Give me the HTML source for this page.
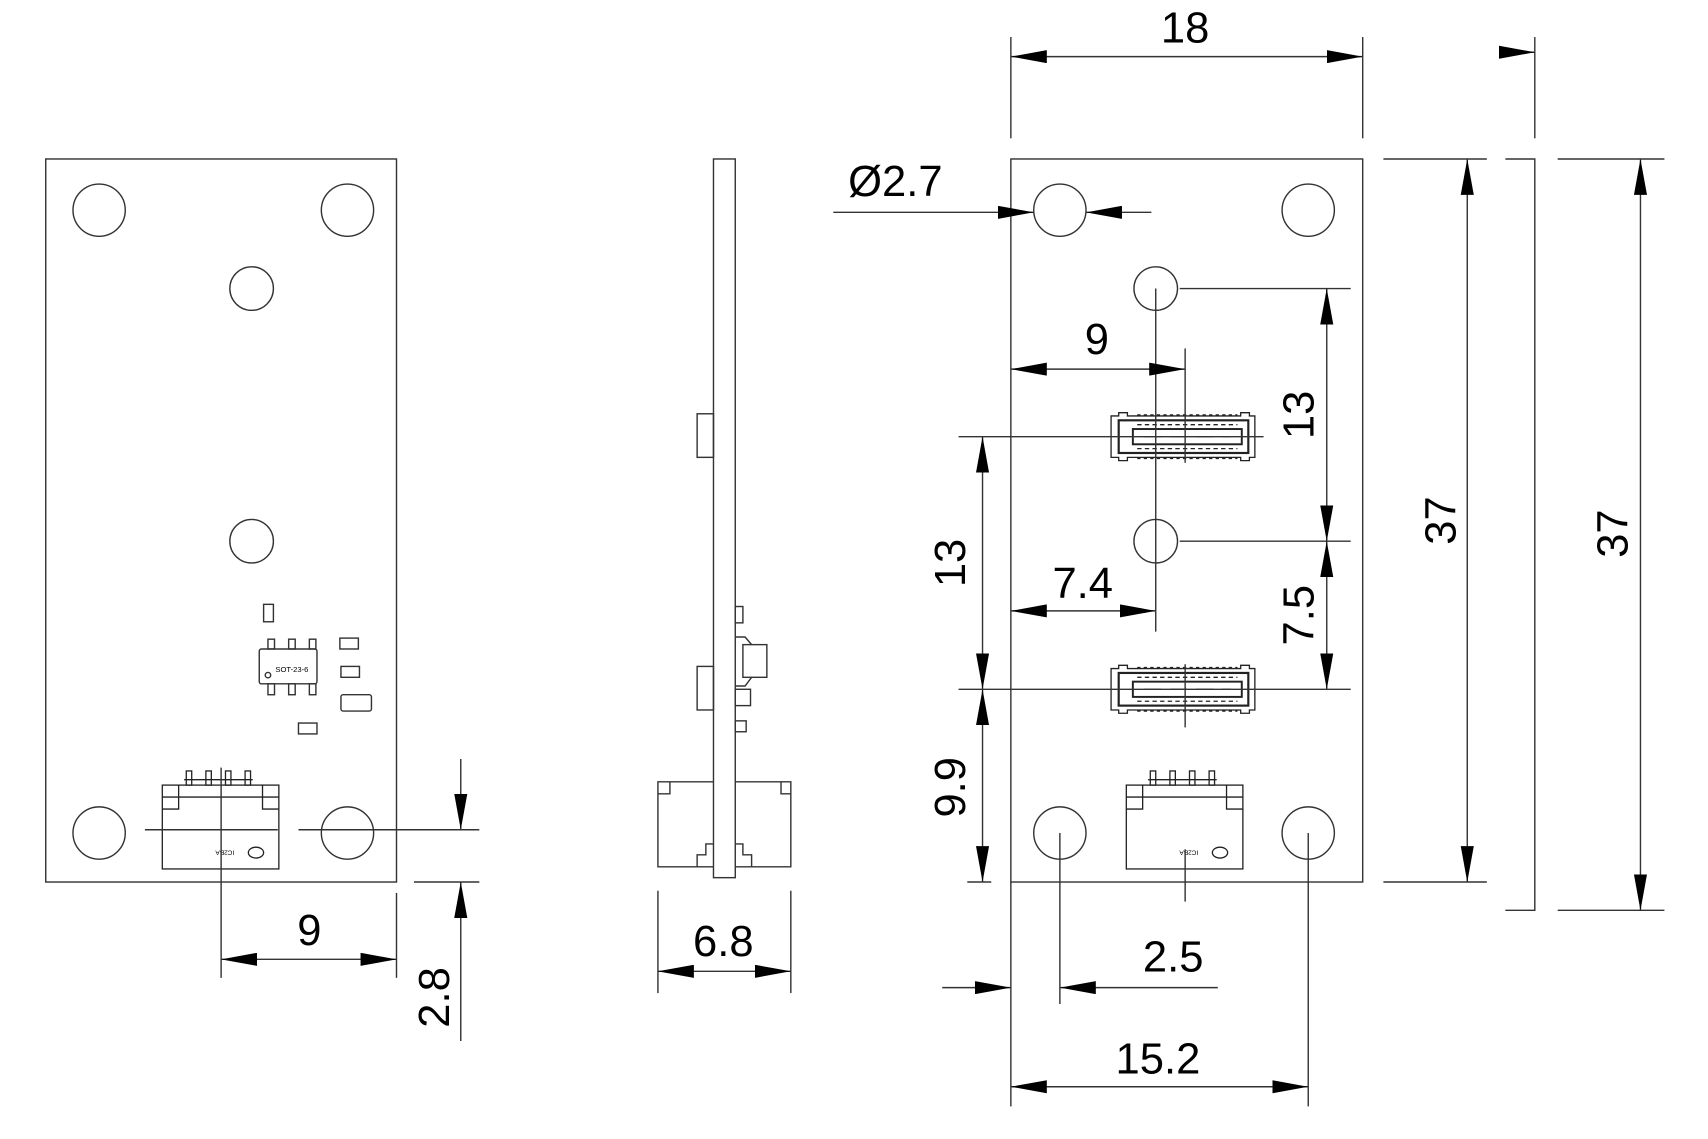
<!DOCTYPE html>
<html><head><meta charset="utf-8"><style>
html,body{margin:0;padding:0;background:#fff;}
svg{display:block;}
text{font-family:"Liberation Sans",Arial,sans-serif;fill:#000;}
</style></head><body>
<svg width="1708" height="1139" viewBox="0 0 1568 1046" preserveAspectRatio="none" xmlns="http://www.w3.org/2000/svg">
<defs>
<marker id="a" viewBox="0 0 33 12" refX="33" refY="6" markerWidth="33" markerHeight="12" markerUnits="userSpaceOnUse" orient="auto-start-reverse">
<path d="M0,0 L33,6 L0,12 Z" fill="#000"/>
</marker>
<g id="conn4" fill="none" stroke="#222" stroke-width="1.2">
<rect x="149" y="721" width="107" height="77"/>
<line x1="149" y1="732" x2="256" y2="732"/>
<path d="M149,743 H164 V721"/><path d="M256,743 H241 V721"/>
<rect x="171" y="708" width="5" height="13"/><rect x="189" y="708" width="5" height="13"/>
<rect x="207" y="708" width="5" height="13"/><rect x="225" y="708" width="5" height="13"/>
<line x1="169" y1="716" x2="232" y2="716"/>
<text x="215" y="787" font-size="6" stroke="none" fill="#000" transform="rotate(180 215 784)">IC2BA</text>
<ellipse cx="235" cy="783" rx="7" ry="5"/>
</g>
<g id="fpc" fill="none" stroke="#222" stroke-width="1.2">
<path d="M1020,-19 H1027 V-22 H1035 V-19 H1139 V-22 H1147 V-19 H1152 V19 H1147 V22 H1139 V19 H1035 V22 H1027 V19 H1020 Z"/>
<rect x="1027" y="-15" width="119" height="30" stroke-width="2"/>
<rect x="1040" y="-7" width="100" height="14" stroke-width="1.8"/>
<line x1="1044" y1="-11" x2="1136" y2="-11" stroke-dasharray="4 3"/>
<line x1="1044" y1="11" x2="1136" y2="11" stroke-dasharray="4 3"/>
<line x1="1044" y1="-20" x2="1136" y2="-20" stroke-dasharray="3 3"/>
<line x1="1044" y1="20" x2="1136" y2="20" stroke-dasharray="3 3"/>
<line x1="1050" y1="0" x2="1130" y2="0" stroke-dasharray="16 8"/>
</g>
</defs>
<g fill="none" stroke="#333" stroke-width="1.3">
<rect x="42" y="146" width="322" height="664"/>
<circle cx="91" cy="193" r="24"/><circle cx="319" cy="193" r="24"/>
<circle cx="91" cy="765" r="24"/><circle cx="319" cy="765" r="24"/>
<circle cx="231" cy="265" r="20"/><circle cx="231" cy="497" r="20"/>
<rect x="242" y="555" width="9" height="16"/>
<rect x="238" y="596" width="53" height="32" rx="2"/>
<rect x="246" y="587" width="6" height="9"/><rect x="265" y="587" width="6" height="9"/><rect x="284" y="587" width="6" height="9"/>
<rect x="246" y="628" width="6" height="10"/><rect x="265" y="628" width="6" height="10"/><rect x="284" y="628" width="6" height="10"/>
<circle cx="246" cy="620" r="2.5"/>
<rect x="312" y="586" width="17" height="10"/><rect x="313" y="612" width="17" height="10"/>
<rect x="313" y="638" width="28" height="15" rx="2"/><rect x="274" y="664" width="17" height="10"/>
<use href="#conn4"/>
<line x1="203" y1="705" x2="203" y2="898"/>
<line x1="133" y1="762" x2="255" y2="762"/><line x1="274" y1="762" x2="440" y2="762"/>
<line x1="364" y1="820" x2="364" y2="898"/>
<line x1="380" y1="810" x2="440" y2="810"/>
<line x1="203" y1="881" x2="364" y2="881" marker-start="url(#a)" marker-end="url(#a)"/>
<line x1="423" y1="697" x2="423" y2="762" marker-end="url(#a)"/>
<line x1="423" y1="956" x2="423" y2="810" marker-end="url(#a)"/>
<rect x="655" y="146" width="20" height="660"/>
<rect x="640" y="380" width="15" height="40"/><rect x="640" y="612" width="15" height="40"/>
<rect x="675" y="557" width="7" height="15"/>
<rect x="682" y="592" width="22" height="30"/><path d="M675,585 H684 L690,592 M675,630 H684 L690,622"/>
<rect x="675" y="633" width="14" height="15"/><rect x="675" y="662" width="10" height="10"/>
<path d="M655,718 H604 V796 H655 M675,718 H726 V796 H675"/>
<path d="M615,718 V729 H604 M717,718 V729 H726 M640,796 V785 H648 V775 H655 M690,796 V785 H682 V775 H675"/>
<line x1="604" y1="818" x2="604" y2="912"/><line x1="726" y1="818" x2="726" y2="912"/>
<line x1="604" y1="892" x2="726" y2="892" marker-start="url(#a)" marker-end="url(#a)"/>
<rect x="928" y="146" width="323" height="664"/>
<circle cx="973" cy="193" r="24"/><circle cx="1201" cy="193" r="24"/>
<circle cx="973" cy="765" r="24"/><circle cx="1201" cy="765" r="24"/>
<circle cx="1061" cy="265" r="20"/><circle cx="1061" cy="497" r="20"/>
<use href="#fpc" transform="translate(0,401)"/>
<use href="#fpc" transform="translate(0,633)"/>
<use href="#conn4" transform="translate(885,0)"/>
<line x1="1061" y1="265" x2="1061" y2="580"/>
<line x1="1088" y1="320" x2="1088" y2="425"/><line x1="1088" y1="610" x2="1088" y2="668"/><line x1="1088" y1="780" x2="1088" y2="828"/>
<line x1="880" y1="401" x2="1160" y2="401"/><line x1="880" y1="633" x2="1240" y2="633"/>
<line x1="1083" y1="265" x2="1240" y2="265"/><line x1="1083" y1="497" x2="1240" y2="497"/>
<line x1="928" y1="34" x2="928" y2="127"/><line x1="1251" y1="34" x2="1251" y2="127"/>
<line x1="928" y1="52" x2="1251" y2="52" marker-start="url(#a)" marker-end="url(#a)"/>
<line x1="1409" y1="34" x2="1409" y2="127"/>
<line x1="1380" y1="48" x2="1409" y2="48" marker-end="url(#a)"/>
<path d="M1382,146 H1409 V836 H1382"/>
<line x1="1270" y1="146" x2="1365" y2="146"/><line x1="1270" y1="810" x2="1365" y2="810"/>
<line x1="1347" y1="146" x2="1347" y2="810" marker-start="url(#a)" marker-end="url(#a)"/>
<line x1="1430" y1="146" x2="1528" y2="146"/><line x1="1430" y1="836" x2="1528" y2="836"/>
<line x1="1506" y1="146" x2="1506" y2="836" marker-start="url(#a)" marker-end="url(#a)"/>
<line x1="765" y1="195" x2="949" y2="195" marker-end="url(#a)"/>
<line x1="1057" y1="195" x2="997" y2="195" marker-end="url(#a)"/>
<line x1="928" y1="339" x2="1088" y2="339" marker-start="url(#a)" marker-end="url(#a)"/>
<line x1="928" y1="561" x2="1061" y2="561" marker-start="url(#a)" marker-end="url(#a)"/>
<line x1="1218" y1="265" x2="1218" y2="497" marker-start="url(#a)" marker-end="url(#a)"/>
<line x1="1218" y1="497" x2="1218" y2="633" marker-start="url(#a)" marker-end="url(#a)"/>
<line x1="902" y1="401" x2="902" y2="633" marker-start="url(#a)" marker-end="url(#a)"/>
<line x1="902" y1="633" x2="902" y2="810" marker-start="url(#a)" marker-end="url(#a)"/>
<line x1="888" y1="810" x2="910" y2="810"/>
<line x1="973" y1="765" x2="973" y2="922"/>
<line x1="865" y1="907" x2="928" y2="907" marker-end="url(#a)"/>
<line x1="1118" y1="907" x2="973" y2="907" marker-end="url(#a)"/>
<line x1="928" y1="810" x2="928" y2="1016"/><line x1="1201" y1="765" x2="1201" y2="1016"/>
<line x1="928" y1="998" x2="1201" y2="998" marker-start="url(#a)" marker-end="url(#a)"/>
</g>
<g font-size="40" text-anchor="middle">
<text x="284" y="868">9</text>
<text x="0" y="0" transform="translate(412,916) rotate(-90)">2.8</text>
<text x="664" y="878">6.8</text>
<text x="1088" y="39">18</text>
<text x="822" y="180">Ø2.7</text>
<text x="1007" y="325">9</text>
<text x="994" y="549">7.4</text>
<text x="0" y="0" transform="translate(1206,381) rotate(-90)">13</text>
<text x="0" y="0" transform="translate(1206,565) rotate(-90)">7.5</text>
<text x="0" y="0" transform="translate(886,517) rotate(-90)">13</text>
<text x="0" y="0" transform="translate(886,723) rotate(-90)">9.9</text>
<text x="0" y="0" transform="translate(1336,478) rotate(-90)">37</text>
<text x="0" y="0" transform="translate(1494,490) rotate(-90)">37</text>
<text x="1077" y="892">2.5</text>
<text x="1063" y="986">15.2</text>
</g>
<text x="268" y="617" font-size="7" text-anchor="middle">SOT-23-6</text>
</svg>
</body></html>
